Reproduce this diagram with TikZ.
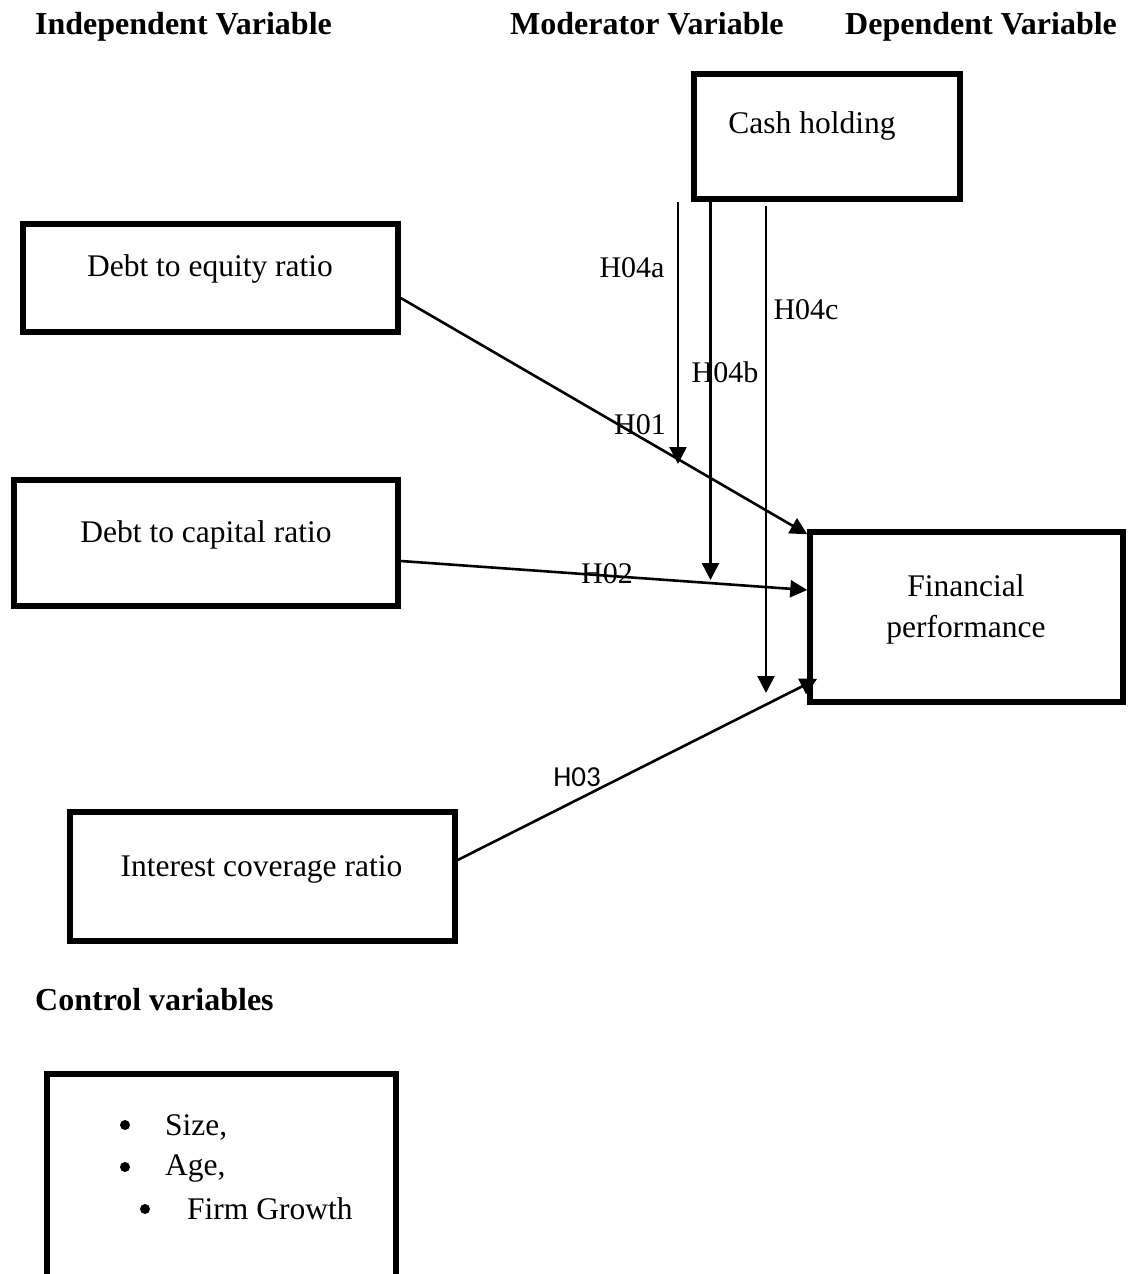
\documentclass[tikz,border=0pt]{standalone}
\usepackage{fontspec}
\setmainfont{Liberation Serif}
\newfontfamily\calfont{Carlito}
\usetikzlibrary{arrows.meta}
\begin{document}
\begin{tikzpicture}[x=1pt,y=-1pt,
  box/.style={draw, line width=5.5pt, minimum width=#1, inner sep=0pt},
  lbl/.style={font=\fontsize{31.5}{41}\selectfont, inner sep=0pt},
  head/.style={font=\fontsize{32}{38}\selectfont\bfseries, inner sep=0pt, anchor=base west},
  hyp/.style={font=\fontsize{30}{36}\selectfont, inner sep=0pt},
  conn/.style={line width=2.6pt, -{Triangle[length=17pt,width=17pt]}},
  dot/.style={circle, fill, inner sep=0pt, minimum size=10pt}
]
\clip (0,0) rectangle (1128,1274);
\fill[white] (0,0) rectangle (1128,1274);

% headers
\node[head] (hind) at (35,34) {Independent Variable};
\node[head] (hmod) at (510,34) {Moderator Variable};
\node[head] (hdep) at (845,34) {Dependent Variable};
\node[head] (hctl) at (35,1010) {Control variables};

% boxes
\node[box=266pt, minimum height=125pt] (cash) at (827,136.5) {};
\node[box=375pt, minimum height=108pt] (de) at (210.5,278) {};
\node[box=384pt, minimum height=126pt] (dc) at (206,543) {};
\node[box=313pt, minimum height=170pt] (fp) at (966.5,617) {};
\node[box=385pt, minimum height=129pt] (ic) at (262.5,876.5) {};
\node[box=349pt, minimum height=240pt] (ctl) at (221.5,1194) {};

% box texts
\node[lbl] (cashT) at (812,126) {Cash holding};
\node[lbl] (deT) at (210,269) {Debt to equity ratio};
\node[lbl] (dcT) at (206,535) {Debt to capital ratio};
\node[lbl, align=center] (fpT) at (966,609) {Financial\\performance};
\node[lbl] (icT) at (261.5,869) {Interest coverage ratio};

% control list
\node[dot] (b1) at (125,1125) {};
\node[lbl, anchor=west] (s1) at (165,1127) {Size,};
\node[dot] (b2) at (125,1167) {};
\node[lbl, anchor=west] (s2) at (165,1168) {Age,};
\node[dot] (b3) at (145,1209) {};
\node[lbl, anchor=west] (s3) at (187,1209) {Firm Growth};

% connectors
\draw[conn] ([yshift=-20pt]de.east) -- ([yshift=-5pt]fp.north west);
\draw[conn] ([yshift=-18pt]dc.east) -- ([yshift=27pt]fp.west);
\draw[conn] ([yshift=16.5pt]ic.east) -- ([xshift=10pt,yshift=26pt]fp.south west);

\coordinate (a4) at (678,464);
\coordinate (b4) at (710.5,580);
\coordinate (c4) at (766,693);
\draw[conn] ([xshift=-149pt]cash.south) -- (a4);
\draw[conn] ([xshift=-116.5pt,yshift=5pt]cash.south) -- (b4);
\draw[conn] ([xshift=-61pt,yshift=-4pt]cash.south) -- (c4);

% hypothesis labels
\node[hyp] (h01) at (640,425) {H01};
\node[hyp] (h02) at (607,574) {H02};
\node[hyp, font=\calfont\fontsize{29}{35}\selectfont] (h03) at (577,777) {H03};
\node[hyp] (h4a) at (632,268) {H04a};
\node[hyp] (h4b) at (725,372) {H04b};
\node[hyp] (h4c) at (806,310) {H04c};
\end{tikzpicture}
\end{document}
